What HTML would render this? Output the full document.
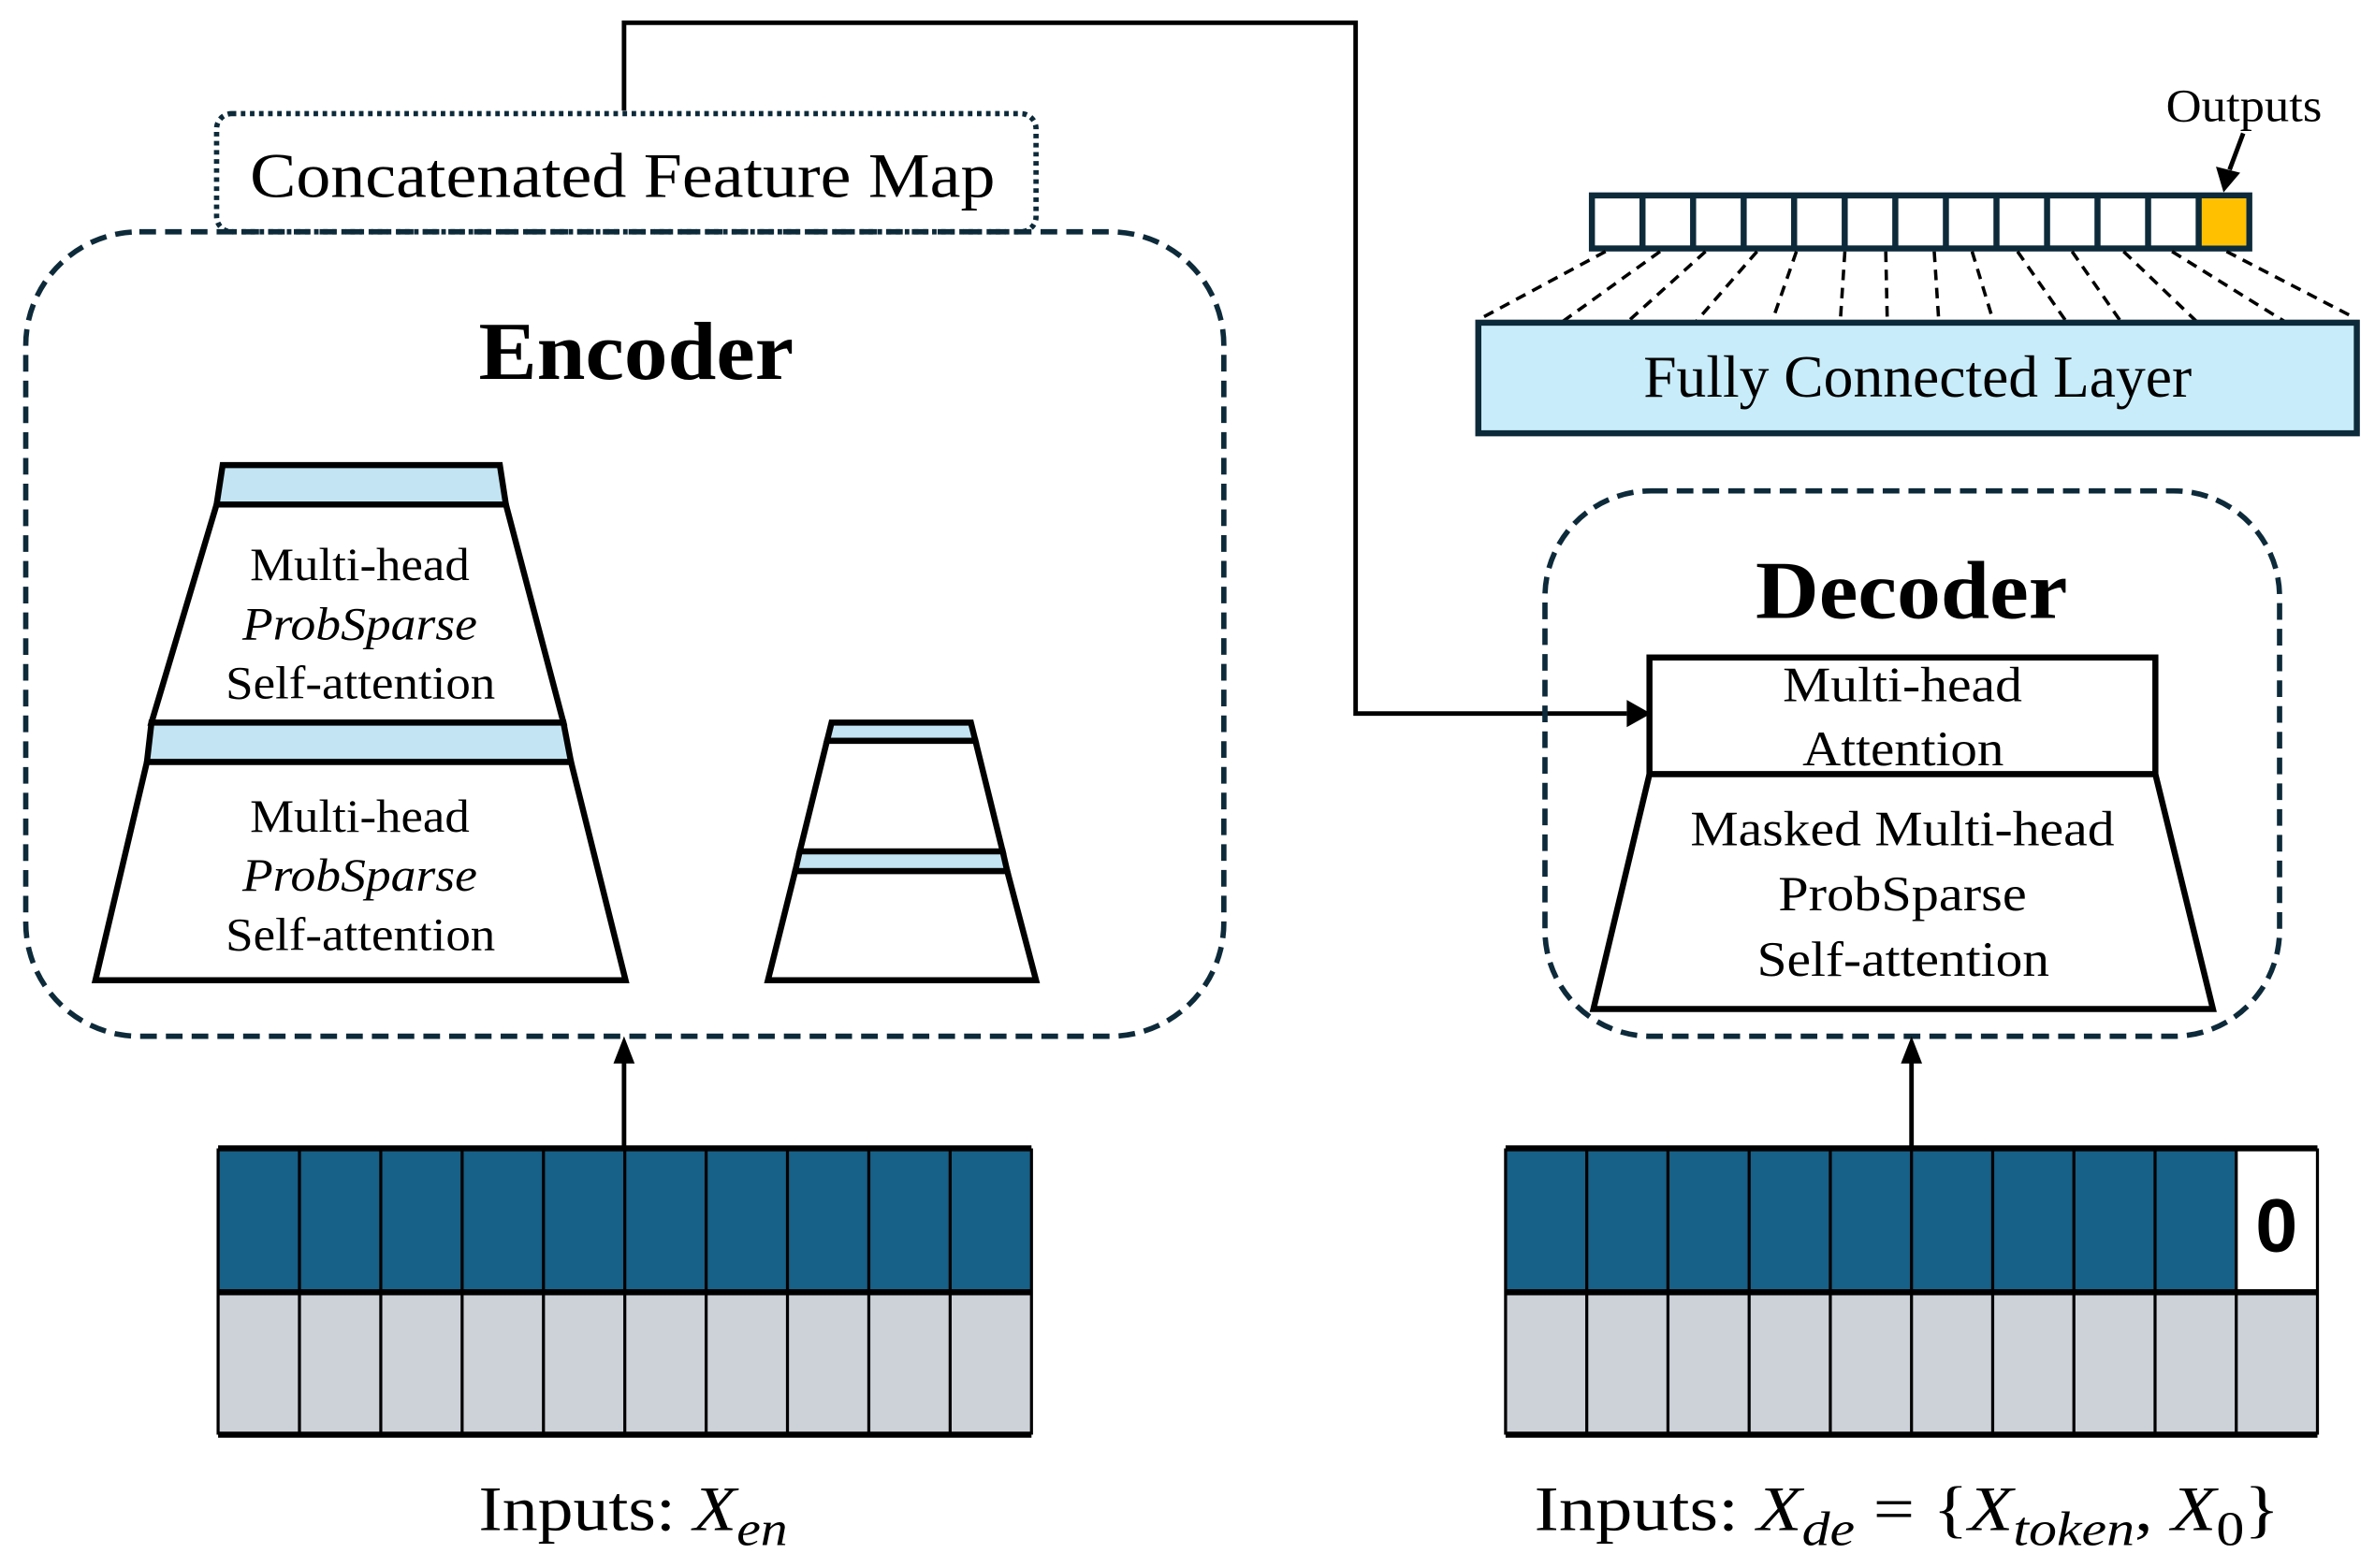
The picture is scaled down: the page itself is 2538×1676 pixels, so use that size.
<!DOCTYPE html>
<html><head><meta charset="utf-8"><style>
html,body{margin:0;padding:0;background:#fff;}
svg{display:block;}
text{font-family:"Liberation Serif",serif;fill:#000;}
</style></head><body>
<svg width="2538" height="1676" viewBox="0 0 1568 1035" preserveAspectRatio="none" xmlns="http://www.w3.org/2000/svg">
<!-- top connector -->
<polyline points="412,73 412,15 895,15 895,471 1074,471" fill="none" stroke="#000" stroke-width="3"/>
<path d="M1074,462 L1090,471 L1074,480 Z" fill="#000"/>
<!-- Concatenated box -->
<rect x="143" y="75" width="541" height="78" rx="10" fill="none" stroke="#0d2a3a" stroke-width="3.5" stroke-dasharray="3,3"/>
<text x="165" y="130" font-size="42" textLength="492" lengthAdjust="spacingAndGlyphs">Concatenated Feature Map</text>
<!-- Encoder box -->
<rect x="17" y="153" width="791" height="531" rx="75" fill="none" stroke="#0d2a3a" stroke-width="3.5" stroke-dasharray="11,6"/>
<text x="316" y="250" font-size="54" font-weight="bold" textLength="208" lengthAdjust="spacingAndGlyphs">Encoder</text>
<!-- Big stack -->
<polygon points="147,307 330,307 334,333 143,333" fill="#c2e4f3" stroke="#000" stroke-width="4"/>
<polygon points="143,333 334,333 372,477 100,477" fill="#fff" stroke="#000" stroke-width="4"/>
<polygon points="100,477 372,477 377,503 97,503" fill="#c2e4f3" stroke="#000" stroke-width="4"/>
<polygon points="97,503 377,503 413,647 63,647" fill="#fff" stroke="#000" stroke-width="4"/>
<g font-size="31" lengthAdjust="spacingAndGlyphs">
<text x="165" y="383" textLength="145" lengthAdjust="spacingAndGlyphs">Multi-head</text>
<text x="160" y="422" font-style="italic" textLength="155" lengthAdjust="spacingAndGlyphs">ProbSparse</text>
<text x="149" y="461" textLength="178" lengthAdjust="spacingAndGlyphs">Self-attention</text>
<text x="165" y="549" textLength="145" lengthAdjust="spacingAndGlyphs">Multi-head</text>
<text x="160" y="588" font-style="italic" textLength="155" lengthAdjust="spacingAndGlyphs">ProbSparse</text>
<text x="149" y="627" textLength="178" lengthAdjust="spacingAndGlyphs">Self-attention</text>
</g>
<!-- small stack -->
<polygon points="549,477 641,477 644,489 546,489" fill="#c2e4f3" stroke="#000" stroke-width="4"/>
<polygon points="546,489 644,489 662,562 528,562" fill="#fff" stroke="#000" stroke-width="4"/>
<polygon points="528,562 662,562 665,575 525,575" fill="#c2e4f3" stroke="#000" stroke-width="4"/>
<polygon points="525,575 665,575 684,647 507,647" fill="#fff" stroke="#000" stroke-width="4"/>
<!-- encoder arrow -->
<line x1="412" y1="758" x2="412" y2="700" stroke="#000" stroke-width="3"/>
<path d="M405,702 L412,684 L419,702 Z" fill="#000"/>
<!-- encoder grid -->
<rect x="144" y="758" width="537" height="95" fill="#176087"/>
<rect x="144" y="853" width="537" height="94" fill="#cdd2d9"/>
<g stroke="#000" stroke-width="2">
<line x1="144" y1="758" x2="681" y2="758" stroke-width="4"/>
<line x1="144" y1="853" x2="681" y2="853" stroke-width="4"/>
<line x1="144" y1="947" x2="681" y2="947" stroke-width="4"/>
<line x1="144" y1="758" x2="144" y2="947"/><line x1="197.7" y1="758" x2="197.7" y2="947"/><line x1="251.4" y1="758" x2="251.4" y2="947"/><line x1="305.1" y1="758" x2="305.1" y2="947"/><line x1="358.8" y1="758" x2="358.8" y2="947"/><line x1="412.5" y1="758" x2="412.5" y2="947"/><line x1="466.2" y1="758" x2="466.2" y2="947"/><line x1="519.9" y1="758" x2="519.9" y2="947"/><line x1="573.6" y1="758" x2="573.6" y2="947"/><line x1="627.3" y1="758" x2="627.3" y2="947"/><line x1="681" y1="758" x2="681" y2="947"/>
</g>
<text x="316" y="1010" font-size="42" textLength="204" lengthAdjust="spacingAndGlyphs">Inputs: <tspan font-style="italic">X</tspan><tspan font-style="italic" font-size="32" dy="10">en</tspan></text>
<!-- Outputs -->
<text x="1430" y="80" font-size="31" textLength="103" lengthAdjust="spacingAndGlyphs">Outputs</text>
<line x1="1481" y1="88" x2="1472" y2="112" stroke="#000" stroke-width="3"/>
<path d="M1463,110 L1468,127 L1479,114 Z" fill="#000"/>
<rect x="1051" y="129" width="434" height="35" fill="#fff" stroke="#0d2a3a" stroke-width="4"/>
<rect x="1453" y="131" width="30" height="31" fill="#ffc000"/>
<g stroke="#0d2a3a" stroke-width="4">
<line x1="1084.4" y1="129" x2="1084.4" y2="164"/><line x1="1117.8" y1="129" x2="1117.8" y2="164"/><line x1="1151.2" y1="129" x2="1151.2" y2="164"/><line x1="1184.5" y1="129" x2="1184.5" y2="164"/><line x1="1217.9" y1="129" x2="1217.9" y2="164"/><line x1="1251.3" y1="129" x2="1251.3" y2="164"/><line x1="1284.7" y1="129" x2="1284.7" y2="164"/><line x1="1318.1" y1="129" x2="1318.1" y2="164"/><line x1="1351.5" y1="129" x2="1351.5" y2="164"/><line x1="1384.8" y1="129" x2="1384.8" y2="164"/><line x1="1418.2" y1="129" x2="1418.2" y2="164"/><line x1="1451.6" y1="129" x2="1451.6" y2="164"/>
</g>
<g stroke="#000" stroke-width="2.2" stroke-dasharray="7,5">
<line x1="1060" y1="166" x2="978" y2="210"/><line x1="1096" y1="166" x2="1032" y2="212"/><line x1="1126" y1="166" x2="1075" y2="212"/><line x1="1160" y1="166" x2="1120" y2="212"/><line x1="1186" y1="166" x2="1170" y2="212"/><line x1="1218" y1="166" x2="1215" y2="212"/><line x1="1245" y1="166" x2="1246" y2="212"/><line x1="1277" y1="166" x2="1280" y2="212"/><line x1="1302" y1="166" x2="1316" y2="212"/><line x1="1332" y1="166" x2="1364" y2="212"/><line x1="1368" y1="166" x2="1400" y2="212"/><line x1="1402" y1="166" x2="1450" y2="212"/><line x1="1434" y1="166" x2="1508" y2="212"/><line x1="1470" y1="166" x2="1555" y2="210"/>
</g>
<rect x="976" y="213" width="580" height="73" fill="#c8ecf9" stroke="#0d2a3a" stroke-width="4"/>
<text x="1085" y="262" font-size="39" textLength="362" lengthAdjust="spacingAndGlyphs">Fully Connected Layer</text>
<!-- Decoder box -->
<rect x="1020" y="324" width="485" height="360" rx="70" fill="none" stroke="#0d2a3a" stroke-width="3.5" stroke-dasharray="11,6"/>
<text x="1159" y="408" font-size="54" font-weight="bold" textLength="206" lengthAdjust="spacingAndGlyphs">Decoder</text>
<rect x="1089" y="434" width="334" height="77" fill="#fff" stroke="#000" stroke-width="4"/>
<polygon points="1089,511 1423,511 1461,666 1052,666" fill="#fff" stroke="#000" stroke-width="4"/>
<g font-size="33">
<text x="1177" y="463" textLength="158" lengthAdjust="spacingAndGlyphs">Multi-head</text>
<text x="1190" y="505" textLength="133" lengthAdjust="spacingAndGlyphs">Attention</text>
<text x="1116" y="558" textLength="280" lengthAdjust="spacingAndGlyphs">Masked Multi-head</text>
<text x="1174" y="601" textLength="164" lengthAdjust="spacingAndGlyphs">ProbSparse</text>
<text x="1160" y="644" textLength="193" lengthAdjust="spacingAndGlyphs">Self-attention</text>
</g>
<line x1="1262" y1="758" x2="1262" y2="700" stroke="#000" stroke-width="3"/>
<path d="M1255,702 L1262,684 L1269,702 Z" fill="#000"/>
<!-- decoder grid -->
<rect x="994" y="758" width="536" height="95" fill="#176087"/>
<rect x="1477" y="758" width="53" height="95" fill="#fff"/>
<rect x="994" y="853" width="536" height="94" fill="#cdd2d9"/>
<g stroke="#000" stroke-width="2">
<line x1="994" y1="758" x2="1530" y2="758" stroke-width="4"/>
<line x1="994" y1="853" x2="1530" y2="853" stroke-width="4"/>
<line x1="994" y1="947" x2="1530" y2="947" stroke-width="4"/>
<line x1="994" y1="758" x2="994" y2="947"/><line x1="1047.6" y1="758" x2="1047.6" y2="947"/><line x1="1101.2" y1="758" x2="1101.2" y2="947"/><line x1="1154.8" y1="758" x2="1154.8" y2="947"/><line x1="1208.4" y1="758" x2="1208.4" y2="947"/><line x1="1262" y1="758" x2="1262" y2="947"/><line x1="1315.6" y1="758" x2="1315.6" y2="947"/><line x1="1369.2" y1="758" x2="1369.2" y2="947"/><line x1="1422.8" y1="758" x2="1422.8" y2="947"/><line x1="1476.4" y1="758" x2="1476.4" y2="947"/><line x1="1530" y1="758" x2="1530" y2="947"/>
</g>
<text x="1503" y="826" font-size="50" font-weight="bold" text-anchor="middle" style="font-family:'Liberation Sans',sans-serif">0</text>
<text x="1013" y="1010" font-size="42" textLength="492" lengthAdjust="spacingAndGlyphs">Inputs: <tspan font-style="italic">X</tspan><tspan font-style="italic" font-size="32" dy="10">de</tspan><tspan dy="-10"> = {</tspan><tspan font-style="italic">X</tspan><tspan font-style="italic" font-size="32" dy="10">token</tspan><tspan dy="-10">, </tspan><tspan font-style="italic">X</tspan><tspan font-size="32" dy="10">0</tspan><tspan dy="-10">}</tspan></text>
</svg>
</body></html>
